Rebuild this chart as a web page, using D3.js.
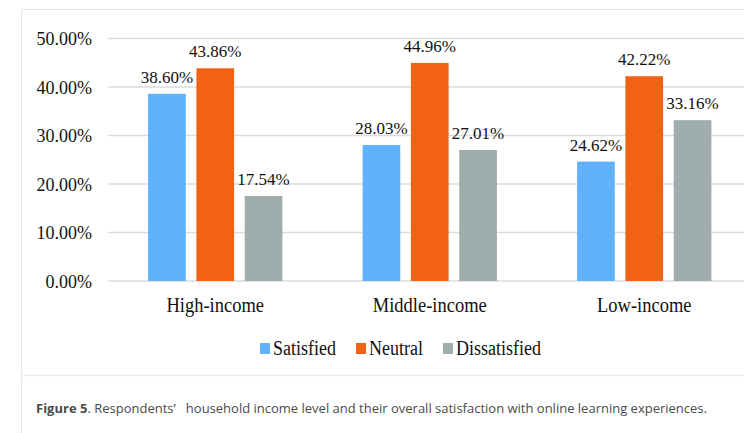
<!DOCTYPE html>
<html><head><meta charset="utf-8">
<script src="https://cdn.jsdelivr.net/npm/d3@7"></script>
<style>body{margin:0;background:#fff;overflow:hidden}</style>
</head><body>
<svg id="c" width="744" height="433"></svg>
<script>
const categories = ["High-income", "Middle-income", "Low-income"];
const seriesNames = ["Satisfied", "Neutral", "Dissatisfied"];
const satisfied = [38.60, 28.03, 24.62];
const neutral = [43.86, 44.96, 42.22];
const dissatisfied = [17.54, 27.01, 33.16];
const yTicks = [0, 10, 20, 30, 40, 50];
const colors = ["#5fb2fb", "#f26214", "#a0adad"];
const captionBold = "Figure 5";
const captionRest = ". Respondents’\u00a0\u00a0\u00a0household income level and their overall satisfaction with online learning experiences.";

const series = [satisfied, neutral, dissatisfied];
const svg = d3.select("#c");
const serif = "Liberation Serif";

// frame
svg.append("line").attr("x1", 21).attr("x2", 744).attr("y1", 9.5).attr("y2", 9.5).attr("stroke", "#e6e8e8");
svg.append("line").attr("x1", 21.5).attr("x2", 21.5).attr("y1", 9).attr("y2", 433).attr("stroke", "#e6e8e8");
svg.append("line").attr("x1", 21).attr("x2", 744).attr("y1", 375.5).attr("y2", 375.5).attr("stroke", "#eceeee").attr("stroke-width", 1.5);

const x0 = d3.scaleBand().domain(categories).range([108, 751.5]).paddingInner(0).paddingOuter(0);
const x1 = d3.scaleBand().domain(seriesNames).range([0, x0.bandwidth()]).paddingInner(0.22).paddingOuter(0.83);
const y = d3.scaleLinear().domain([0, 50]).range([281, 38.5]);

// grid
svg.append("g").selectAll("line").data(yTicks).join("line")
  .attr("x1", 108).attr("x2", 744)
  .attr("y1", d => y(d)).attr("y2", d => y(d))
  .attr("stroke", "#d9dddd").attr("stroke-width", 1.5);

// y axis labels
const yAxis = d3.axisLeft(y).tickValues(yTicks).tickSize(0).tickPadding(0).tickFormat(d => d.toFixed(2) + "%");
const ga = svg.append("g").attr("transform", "translate(92,0)").call(yAxis);
ga.select(".domain").remove();
ga.selectAll("text").attr("font-family", serif).attr("font-size", 18).attr("fill", "#111").attr("dy", "0.34em");

// x axis labels (slightly tall glyphs as in the reference)
const xAxis = d3.axisBottom(x0).tickSize(0).tickPadding(0);
const gx = svg.append("g").attr("transform", "translate(0,298)").call(xAxis);
gx.select(".domain").remove();
gx.selectAll("text").attr("font-family", serif).attr("font-size", 18.5).attr("fill", "#111")
  .attr("y", 0).attr("dy", null).attr("transform", "translate(0,14) scale(1,1.12)");

// bars
const groups = svg.append("g").selectAll("g").data(categories).join("g")
  .attr("transform", d => `translate(${x0(d)},0)`);
const cell = (c, i) => seriesNames.map((s, j) => ({s, j, v: series[j][i]}));
groups.selectAll("rect").data(cell).join("rect")
  .attr("x", d => x1(d.s)).attr("width", x1.bandwidth())
  .attr("y", d => y(d.v)).attr("height", d => y(0) - y(d.v))
  .attr("fill", d => colors[d.j]);
groups.selectAll("text").data(cell).join("text")
  .attr("x", d => x1(d.s) + x1.bandwidth() / 2).attr("y", d => y(d.v) - 11)
  .attr("text-anchor", "middle").attr("font-family", serif).attr("font-size", 17).attr("fill", "#111")
  .text(d => d.v.toFixed(2) + "%");

// legend
const legend = svg.append("g");
let lx = 260;
seriesNames.forEach((name, i) => {
  legend.append("rect").attr("x", lx).attr("y", 343).attr("width", 10).attr("height", 11).attr("fill", colors[i]);
  const t = legend.append("text").attr("font-family", serif).attr("font-size", 18).attr("fill", "#111")
    .attr("transform", `translate(${lx + 13},355) scale(1,1.2)`).text(name);
  lx += 13 + t.node().getComputedTextLength() + 20;
});

// caption
const cap = svg.append("text").attr("x", 36).attr("y", 413).attr("font-family", "Open Sans").attr("font-size", 13).attr("fill", "#4a4a4a");
cap.append("tspan").attr("font-weight", "bold").text(captionBold);
cap.append("tspan").text(captionRest);
</script>
</body></html>
